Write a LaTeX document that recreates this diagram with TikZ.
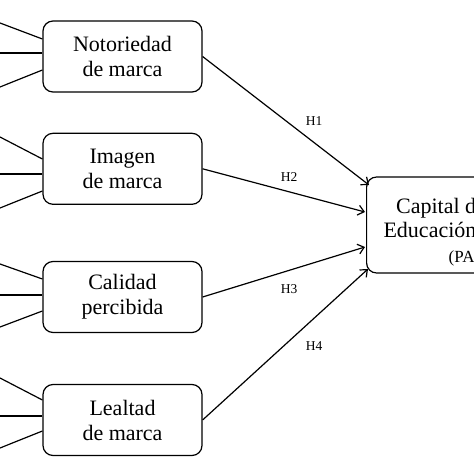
\documentclass[tikz,border=0pt]{standalone}
\usepackage{fontspec}
\setmainfont{Liberation Serif}
\usetikzlibrary{arrows.meta}

\tikzset{
  factor/.style={draw, line width=1.2pt, rounded corners=10pt,
    minimum width=159pt, minimum height=71pt, align=center,
    font=\fontsize{22}{25}\selectfont},
  outcome/.style={factor, anchor=west, minimum width=208pt, minimum height=96pt,
    font=\fontsize{22}{24}\selectfont},
  ind/.style={line width=1.2pt},
  hyparrow/.style={line width=1.2pt, -{Straight Barb[length=6pt,width=10pt]}},
  hyp/.style={font=\fontsize{13.5}{15}\selectfont},
}

\begin{document}
\begin{tikzpicture}[x=1pt,y=-1pt]
  \useasboundingbox (0,0) rectangle (474,474);
  \clip (0,0) rectangle (474,474);
  % constructs
  \node[factor] (not) at (122.5,56.5) {Notoriedad\\de marca};
  \node[factor] (ima) at (122.5,168.8) {Imagen\\de marca};
  \node[factor] (cal) at (122.5,297) {Calidad\\percibida};
  \node[factor] (lea) at (122.5,420) {Lealtad\\de marca};
  \node[outcome] (cap) at (366,225)
    {\rule{0pt}{30pt}Capital de marca\\Educación Superior\\[1pt]{\fontsize{17}{20}\selectfont (PAU)}};
  % indicators (cut off at the left edge)
  \foreach \n/\ua/\ub/\m/\lb/\la in {not/23/39/53/70/87, ima/137/159/174/191/208,
      cal/264/279/295/311/327, lea/378/400/416/431/448}{
    \coordinate (\n-u) at (0,\ua);
    \coordinate (\n-m) at (0,\m);
    \coordinate (\n-l) at (0,\la);
    \draw[ind] (\n-u) -- (\n.west |- 0,\ub);
    \draw[ind] (\n-m) -- (\n-m -| \n.west);
    \draw[ind] (\n-l) -- (\n.west |- 0,\lb);
  }
  % hypotheses
  \draw[hyparrow] (not.east) -- ([xshift=3pt,yshift=40pt]cap.west);
  \draw[hyparrow] (ima.east) -- ([xshift=-1pt,yshift=13pt]cap.west);
  \draw[hyparrow] (cal.east) -- ([xshift=-1pt,yshift=-22pt]cap.west);
  \draw[hyparrow] (lea.east) -- ([xshift=2pt,yshift=-44pt]cap.west);
  \node[hyp] (h1) at (314,121) {H1};
  \node[hyp] (h2) at (289,177) {H2};
  \node[hyp] (h3) at (289,289) {H3};
  \node[hyp] (h4) at (314,346) {H4};
\end{tikzpicture}
\end{document}
